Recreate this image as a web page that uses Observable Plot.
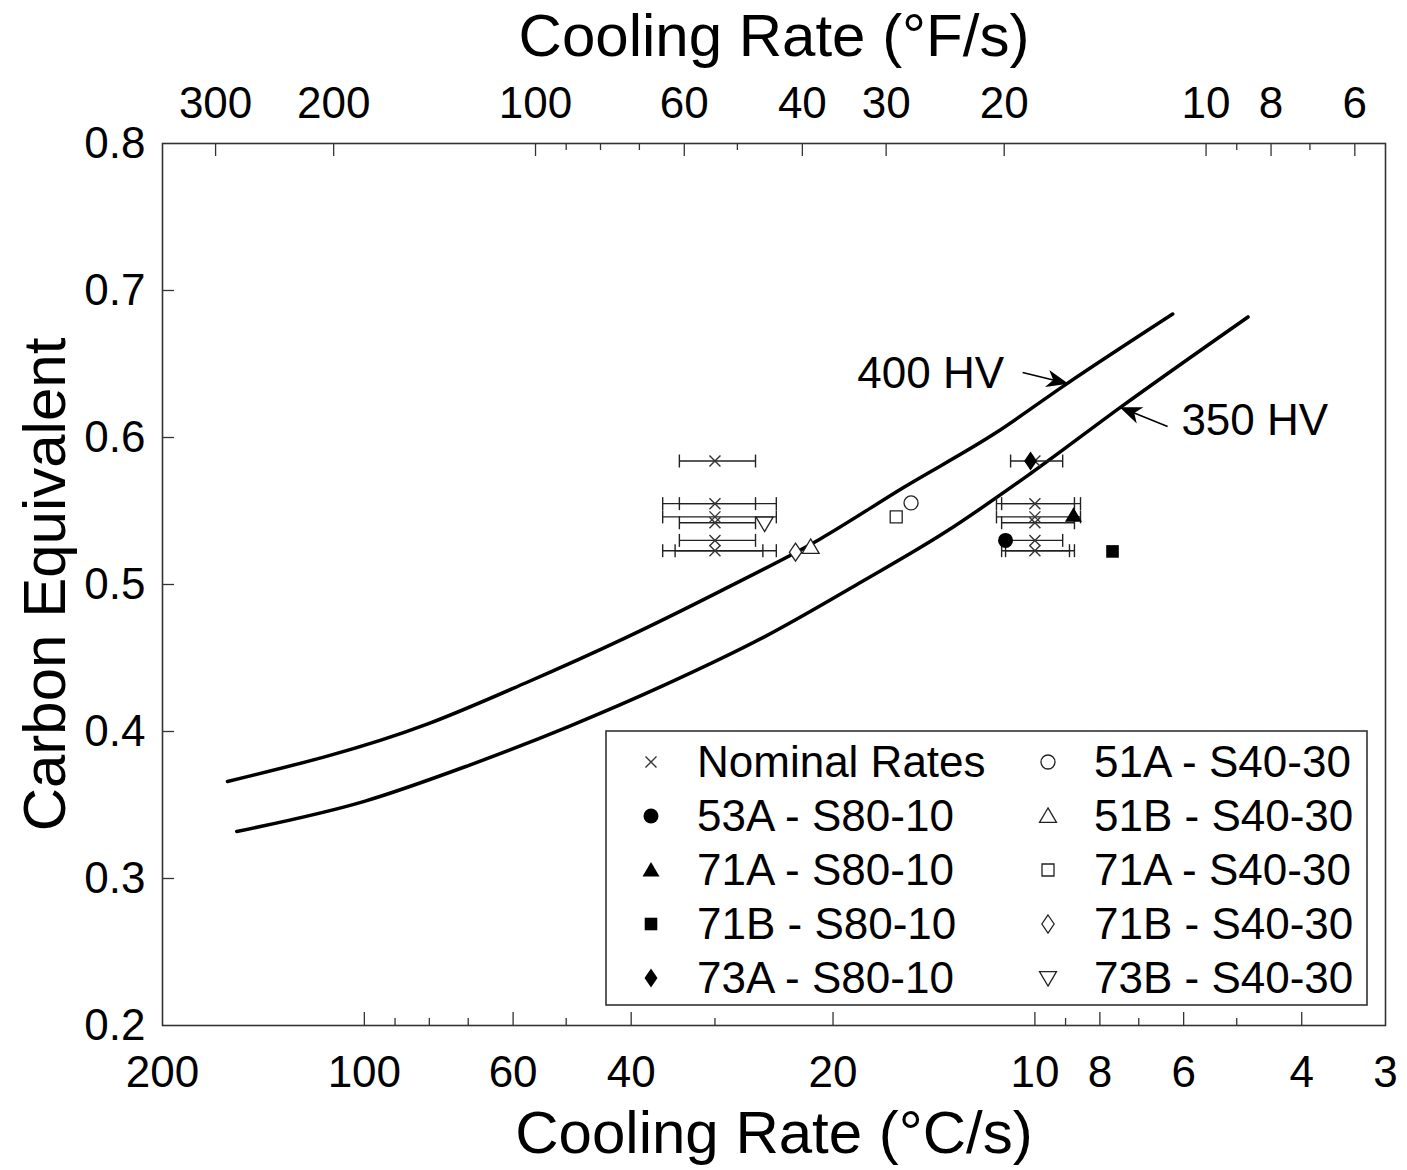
<!DOCTYPE html>
<html><head><meta charset="utf-8">
<script src="https://cdn.jsdelivr.net/npm/d3@7"></script>
<script src="https://cdn.jsdelivr.net/npm/@observablehq/plot@0.6"></script>
<style>
html,body{margin:0;padding:0;background:#fff;}
#chart{width:1407px;height:1170px;}
</style></head><body><div id="chart"></div>
<script>
// ---------------- DATA ----------------
// Hardness curves (cooling rate °C/s, carbon equivalent)
const curve400Rate = [160, 80.6, 57.5, 41.1, 29.3, 20.9, 15.7, 11.45, 9.0, 6.23];
const curve400CE   = [0.366, 0.405, 0.433, 0.463, 0.496, 0.531, 0.566, 0.603, 0.636, 0.684];
const curve350Rate = [155, 100, 69.8, 49.8, 35.5, 25.4, 18.1, 13.56, 10.15, 7.43, 4.81];
const curve350CE   = [0.332, 0.3525, 0.377, 0.403, 0.432, 0.464, 0.502, 0.536, 0.5755, 0.621, 0.682];

// Nominal rates (x markers)
const nominalRate = [30, 30, 30, 30, 30, 30, 10, 10, 10, 10, 10, 10];
const nominalCE   = [0.584, 0.555, 0.546, 0.542, 0.530, 0.523, 0.584, 0.555, 0.546, 0.542, 0.530, 0.523];

// Range bars around nominal rates
const barCE = [0.584, 0.555, 0.555, 0.546, 0.542, 0.530, 0.523, 0.523,
               0.584, 0.555, 0.555, 0.546, 0.542, 0.530, 0.523, 0.523];
const barLo = [26.1, 24.3, 26.1, 24.3, 26.1, 26.1, 24.3, 25.45,
               9.09, 8.55, 8.73, 8.55, 8.73, 9.09, 8.73, 8.88];
const barHi = [33.9, 35.9, 33.9, 35.9, 33.9, 33.9, 35.9, 34.4,
               10.87, 11.41, 11.21, 11.41, 11.21, 11.06, 11.21, 11.06];

// Measured samples
const sampleNames = ["53A - S80-10", "71A - S80-10", "71B - S80-10", "73A - S80-10",
                     "51A - S40-30", "51B - S40-30", "71A - S40-30", "71B - S40-30", "73B - S40-30"];
const sampleRate = [11.06, 8.76, 7.66, 10.15, 15.3, 21.6, 16.1, 22.75, 25.3];
const sampleCE   = [0.530, 0.547, 0.5225, 0.584, 0.5555, 0.5255, 0.546, 0.522, 0.5415];

// Annotations
const annoText = ["400 HV", "350 HV"];
const annoRate = [14.3, 4.70];
const annoCE   = [0.643, 0.6116];
const arrowFromRate = [10.43, 6.34];
const arrowFromCE   = [0.6442, 0.6075];
const arrowToRate   = [8.94, 7.45];
const arrowToCE     = [0.6367, 0.6204];

// Ticks
const cLabelTicks = [200, 100, 60, 40, 20, 10, 8, 6, 4, 3];
const cMajorTicks = [100, 60, 40, 20, 10, 8, 6, 4];
const cMinorTicks = [90, 80, 70, 50, 30, 9, 7, 5];
const fMajorTicks = [300, 200, 100, 60, 40, 30, 20, 10, 8, 6];
const fMinorTicks = [90, 80, 70, 50, 9, 7];
const ceTicks = [0.2, 0.3, 0.4, 0.5, 0.6, 0.7, 0.8];
const ceInnerTicks = [0.3, 0.4, 0.5, 0.6, 0.7];

const xTitle = "Cooling Rate (°C/s)";
const x2Title = "Cooling Rate (°F/s)";
const yTitle = "Carbon Equivalent";
const nominalLabel = "Nominal Rates";
const F_PER_C = 1.8;

// ---------------- STYLE ----------------
const FONT = "'Liberation Sans', Arial, Helvetica, sans-serif";
const W = 1407, H = 1170, ML = 162, MR = 22, MT = 143, MB = 145;
const innerW = W - ML - MR, innerH = H - MT - MB;
const AX = "#333";

const rOf = s => Math.sqrt(s / Math.PI);
const symTimes = {draw(c, s){const r = rOf(s); c.moveTo(-r,-r); c.lineTo(r,r); c.moveTo(-r,r); c.lineTo(r,-r);}};
const symCircle = {draw(c, s){const r = rOf(s); c.moveTo(r,0); c.arc(0,0,r,0,2*Math.PI); c.closePath();}};
const symTriUp = {draw(c, s){const r = rOf(s); c.moveTo(0,-0.95*r); c.lineTo(r,0.75*r); c.lineTo(-r,0.75*r); c.closePath();}};
const symTriDown = {draw(c, s){const r = rOf(s); c.moveTo(0,0.95*r); c.lineTo(r,-0.75*r); c.lineTo(-r,-0.75*r); c.closePath();}};
const symSquare = {draw(c, s){const r = rOf(s); c.rect(-r,-r,2*r,2*r);}};
const symDiamond = {draw(c, s){const r = rOf(s); c.moveTo(0,-r); c.lineTo(0.68*r,0); c.lineTo(0,r); c.lineTo(-0.68*r,0); c.closePath();}};
const symCap = {draw(c, s){const r = rOf(s); c.moveTo(0,-r); c.lineTo(0,r);}};
// barbed arrowhead, tip at origin pointing to +x
const symBarb = {draw(c, s){const r = rOf(s); c.moveTo(1,0); c.lineTo(-r,-0.42*r); c.lineTo(-0.7*r,0); c.lineTo(-r,0.42*r); c.closePath();}};

const filled = {fill: "black", stroke: "none"};
const open = {fill: "white", stroke: "#222", strokeWidth: 1.3};
const nominalStyle = {symbol: symTimes, r: 5.5, fill: "none", stroke: "#333", strokeWidth: 1.4};
const sampleStyle = {
  "53A - S80-10": {symbol: symCircle, r: 7.5, ...filled},
  "71A - S80-10": {symbol: symTriUp, r: 8.5, ...filled},
  "71B - S80-10": {symbol: symSquare, r: 6.3, ...filled},
  "73A - S80-10": {symbol: symDiamond, r: 9.5, ...filled},
  "51A - S40-30": {symbol: symCircle, r: 7, ...open},
  "51B - S40-30": {symbol: symTriUp, r: 8.5, ...open},
  "71A - S40-30": {symbol: symSquare, r: 6, ...open},
  "71B - S40-30": {symbol: symDiamond, r: 9, ...open},
  "73B - S40-30": {symbol: symTriDown, r: 8.5, ...open}
};

// ---------------- TABLES ----------------
const c400 = curve400Rate.map((r, i) => ({rate: r, ce: curve400CE[i]}));
const c350 = curve350Rate.map((r, i) => ({rate: r, ce: curve350CE[i]}));
const nominal = nominalRate.map((r, i) => ({rate: r, ce: nominalCE[i]}));
const bars = barCE.map((ce, i) => ({ce, lo: barLo[i], hi: barHi[i]}));
const samples = sampleNames.map((n, i) => ({name: n, rate: sampleRate[i], ce: sampleCE[i]}));
const annos = annoText.map((t, i) => ({text: t, rate: annoRate[i], ce: annoCE[i],
  x1: arrowFromRate[i], y1: arrowFromCE[i], x2: arrowToRate[i], y2: arrowToCE[i], angle: 0}));

function build() {
  return Plot.plot({
    width: W, height: H,
    marginLeft: ML, marginRight: MR, marginTop: MT, marginBottom: MB,
    x: {type: "log", domain: [3, 200], reverse: true, axis: null},
    y: {domain: [0.2, 0.8], axis: null},
    style: {fontFamily: FONT, color: "black", background: "white", overflow: "visible"},
    marks: [
      // tick marks (inward)
      Plot.ruleX(cMajorTicks, {x: d => d, insetTop: innerH - 13, stroke: AX, strokeWidth: 1.3}),
      Plot.ruleX(cMinorTicks, {x: d => d, insetTop: innerH - 7, stroke: AX, strokeWidth: 1.3}),
      Plot.ruleX(fMajorTicks.map(f => f / F_PER_C), {x: d => d, insetBottom: innerH - 13, stroke: AX, strokeWidth: 1.3}),
      Plot.ruleX(fMinorTicks.map(f => f / F_PER_C), {x: d => d, insetBottom: innerH - 7, stroke: AX, strokeWidth: 1.3}),
      Plot.ruleY(ceInnerTicks, {y: d => d, insetRight: innerW - 12, stroke: AX, strokeWidth: 1.3}),
      // axis labels
      Plot.axisX(cLabelTicks, {anchor: "bottom", tickSize: 0, tickPadding: 30, tickFormat: d => String(d), label: null, fontSize: 44}),
      Plot.axisX(fMajorTicks.map(f => f / F_PER_C), {anchor: "top", tickSize: 0, tickPadding: 26, tickFormat: d => String(Math.round(d * F_PER_C)), label: null, fontSize: 44}),
      Plot.axisY(ceTicks, {anchor: "left", tickSize: 0, tickPadding: 17, tickFormat: d3.format(".1f"), label: null, fontSize: 44}),
      // titles
      Plot.text([xTitle], {text: d => d, frameAnchor: "bottom", textAnchor: "middle", lineAnchor: "middle", dy: 108, fontSize: 60}),
      Plot.text([x2Title], {text: d => d, frameAnchor: "top", textAnchor: "middle", lineAnchor: "middle", dy: -107, fontSize: 60}),
      Plot.text([yTitle], {text: d => d, frameAnchor: "left", textAnchor: "middle", lineAnchor: "middle", rotate: -90, dx: -117, fontSize: 60}),
      // curves
      Plot.line(c400, {x: "rate", y: "ce", stroke: "black", strokeWidth: 3.5, curve: "monotone-x"}),
      Plot.line(c350, {x: "rate", y: "ce", stroke: "black", strokeWidth: 3.5, curve: "monotone-x"}),
      // range bars
      Plot.link(bars, {x1: "lo", x2: "hi", y1: "ce", y2: "ce", stroke: "#222", strokeWidth: 1.4}),
      Plot.dot(bars, {x: "lo", y: "ce", symbol: symCap, r: 6.5, stroke: "#222", strokeWidth: 1.4, fill: "none"}),
      Plot.dot(bars, {x: "hi", y: "ce", symbol: symCap, r: 6.5, stroke: "#222", strokeWidth: 1.4, fill: "none"}),
      // nominal markers
      Plot.dot(nominal, {x: "rate", y: "ce", ...nominalStyle}),
      // samples
      ...samples.map(s => Plot.dot([s], {x: "rate", y: "ce", ...sampleStyle[s.name]})),
      // annotations
      Plot.text(annos, {x: "rate", y: "ce", text: "text", fontSize: 44, textAnchor: "middle", lineAnchor: "middle"}),
      Plot.link(annos, {x1: "x1", y1: "y1", x2: "x2", y2: "y2", stroke: "black", strokeWidth: 1.5}),
      Plot.dot(annos, {x: "x2", y: "y2", symbol: symBarb, r: 21, rotate: "angle", fill: "black", stroke: "none"}),
      // frame
      Plot.frame({stroke: AX, strokeWidth: 1.6})
    ]
  });
}

// first pass: get the library's scales to orient arrowheads along the arrow shafts
const first = build();
const sx = first.scale("x"), sy = first.scale("y");
annos.forEach(a => {
  const dx = sx.apply(a.x2) - sx.apply(a.x1), dy = sy.apply(a.y2) - sy.apply(a.y1);
  a.angle = Math.atan2(dy, dx) * 180 / Math.PI;
});
const svg = build();

// legend (inside plot area)
const legendItems = [{name: nominalLabel, style: nominalStyle}, ...sampleNames.map(n => ({name: n, style: sampleStyle[n]}))];
const lg = d3.select(svg).append("g").attr("font-family", FONT).attr("font-size", 44).attr("text-anchor", "start");
lg.append("rect").attr("x", 606).attr("y", 731).attr("width", 761).attr("height", 274)
  .attr("fill", "white").attr("stroke", AX).attr("stroke-width", 1.6);
legendItems.forEach((it, i) => {
  const col = Math.floor(i / 5), row = i % 5;
  const lx = 651 + col * 397, cy = 762 + row * 54;
  const st = it.style;
  lg.append("path")
    .attr("transform", `translate(${lx},${cy})`)
    .attr("d", d3.symbol(st.symbol, st.r * st.r * Math.PI)())
    .attr("fill", st.fill).attr("stroke", st.stroke === "none" ? null : st.stroke)
    .attr("stroke-width", st.strokeWidth || null);
  lg.append("text").attr("x", 697 + col * 397).attr("y", cy).attr("dy", "0.35em")
    .attr("fill", "black").text(it.name);
});

document.getElementById("chart").appendChild(svg);
</script></body></html>
